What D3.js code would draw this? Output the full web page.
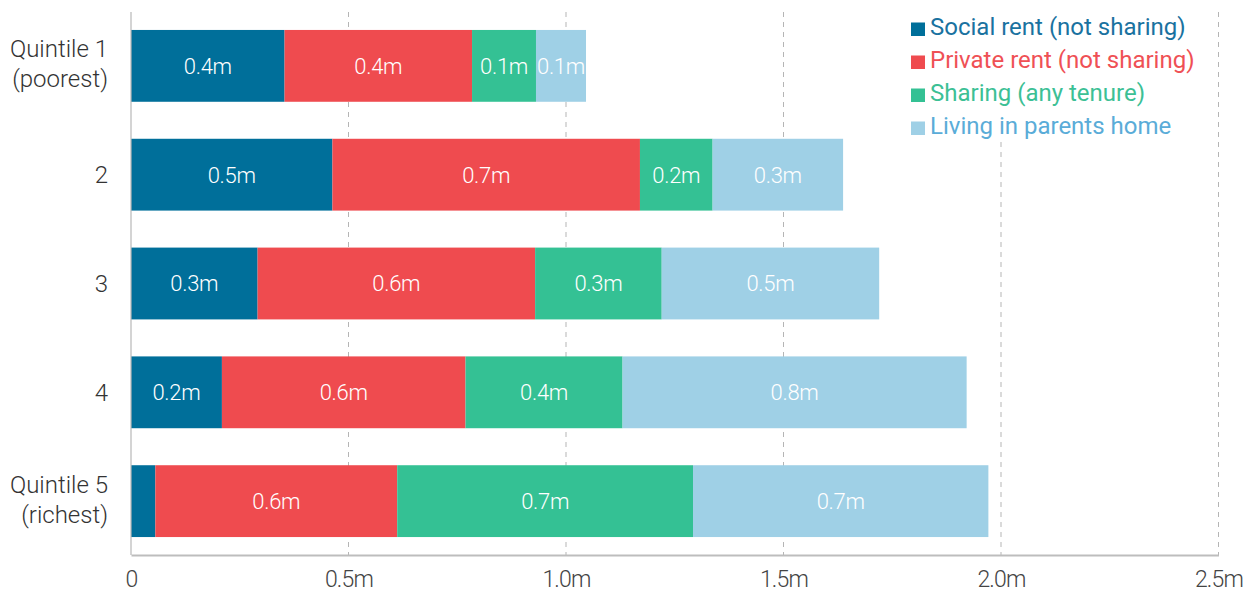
<!DOCTYPE html>
<html>
<head>
<meta charset="utf-8">
<script src="https://cdn.jsdelivr.net/npm/d3@7"></script>
<style>
  html, body { margin: 0; padding: 0; background: #fff; }
  svg { display: block; font-family: Roboto, "Noto Sans", sans-serif; }
</style>
</head>
<body>
<svg id="chart" width="1255" height="594"></svg>
<script>
// Income quintiles (rows) and housing situation (stacked segments), millions of people
const quintiles = ["Quintile 1\n(poorest)", "2", "3", "4", "Quintile 5\n(richest)"];
const seriesNames = ["Social rent (not sharing)", "Private rent (not sharing)", "Sharing (any tenure)", "Living in parents home"];
const socialRent  = [0.353, 0.463, 0.291, 0.209, 0.056];
const privateRent = [0.431, 0.707, 0.638, 0.560, 0.556];
const sharing     = [0.147, 0.167, 0.291, 0.361, 0.680];
const parentsHome = [0.115, 0.300, 0.500, 0.791, 0.679];
const xTicks = [0, 0.5, 1.0, 1.5, 2.0, 2.5];
const xTickLabels = ["0", "0.5m", "1.0m", "1.5m", "2.0m", "2.5m"];
const colors = ["#006f9a", "#ef4b4f", "#34c194", "#9fd0e6"];
const legendTextColors = ["#1a72a0", "#ef5055", "#3cc095", "#5aacd8"];

const rows = quintiles.map((q, i) => ({
  q,
  [seriesNames[0]]: socialRent[i],
  [seriesNames[1]]: privateRent[i],
  [seriesNames[2]]: sharing[i],
  [seriesNames[3]]: parentsHome[i]
}));

const svg = d3.select("#chart");
const chartW = 1255;
const padLeft = 131, padRight = 36.5, plotTop = 12, axisY = 555;

const x = d3.scaleLinear().domain([0, 2.5]).range([padLeft, chartW - padRight]);
const y = d3.scaleBand().domain(quintiles).range([plotTop, axisY]).paddingInner(0.34).paddingOuter(0.165);

// dashed vertical gridlines
svg.append("g").selectAll("line")
  .data(xTicks.filter(t => t > 0))
  .join("line")
  .attr("x1", d => x(d)).attr("x2", d => x(d))
  .attr("y1", plotTop).attr("y2", axisY)
  .attr("stroke", "#b5b5b5").attr("stroke-width", 1)
  .attr("stroke-dasharray", "5,5");

// stacked bars
const layers = d3.stack().keys(seriesNames)(rows);
const fmt = v => d3.format(".1f")(v) + "m";

const layerG = svg.append("g").selectAll("g")
  .data(layers).join("g")
  .attr("fill", (d, i) => colors[i]);

layerG.selectAll("rect")
  .data(d => d)
  .join("rect")
  .attr("x", d => x(d[0]))
  .attr("y", d => y(d.data.q))
  .attr("width", d => x(d[1]) - x(d[0]))
  .attr("height", y.bandwidth());

// segment value labels (skipped where the segment is too narrow)
layerG.selectAll("text")
  .data(d => d.filter(s => x(s[1]) - x(s[0]) > 40))
  .join("text")
  .attr("x", d => (x(d[0]) + x(d[1])) / 2)
  .attr("y", d => y(d.data.q) + y.bandwidth() / 2)
  .attr("dy", "0.36em")
  .attr("text-anchor", "middle")
  .attr("fill", "#fff")
  .attr("font-size", 22)
  .attr("font-weight", 300)
  .attr("letter-spacing", -0.3)
  .text(d => fmt(d[1] - d[0]));

// left axis line
svg.append("line")
  .attr("x1", x(0)).attr("x2", x(0))
  .attr("y1", plotTop).attr("y2", axisY)
  .attr("stroke", "#b8b8b8").attr("stroke-width", 1.2);

// bottom axis
const xAxis = d3.axisBottom(x).tickValues(xTicks).tickFormat((d, i) => xTickLabels[i]).tickSize(0);
const gx = svg.append("g").attr("transform", `translate(0,${axisY})`).call(xAxis);
gx.select(".domain").attr("stroke", "#bdbdbd").attr("stroke-width", 2);
gx.selectAll("text")
  .attr("y", 32).attr("dy", 0)
  .attr("font-size", 23).attr("fill", "#444")
  .attr("font-family", "Roboto, sans-serif").attr("font-weight", 300)
  .attr("letter-spacing", -0.8);

// category labels
const yl = svg.append("g").selectAll("text")
  .data(quintiles).join("text")
  .attr("text-anchor", "end")
  .attr("fill", "#333")
  .attr("font-size", 24)
  .attr("font-weight", 300);
yl.each(function(d) {
  const lines = d.split("\n");
  const cy = y(d) + y.bandwidth() / 2;
  const t = d3.select(this);
  lines.forEach((ln, i) => {
    t.append("tspan")
      .attr("x", 108)
      .attr("y", cy + (i - (lines.length - 1) / 2) * 30 - (lines.length > 1 ? 2 : 0))
      .attr("dy", "0.35em")
      .text(ln);
  });
});

// legend
const lg = svg.append("g");
lg.append("rect").attr("x", 905).attr("y", 0).attr("width", 300).attr("height", 142).attr("fill", "#fff");
const li = lg.selectAll("g").data(seriesNames).join("g")
  .attr("transform", (d, i) => `translate(911, ${34.5 + i * 33})`);
li.append("rect").attr("x", 0).attr("y", -12).attr("width", 14).attr("height", 13.5).attr("fill", (d, i) => colors[i]);
li.append("text").attr("x", 19).attr("y", 0)
  .attr("font-size", 24).attr("font-weight", 400)
  .attr("fill", (d, i) => legendTextColors[i])
  .text(d => d);
</script>
</body>
</html>
